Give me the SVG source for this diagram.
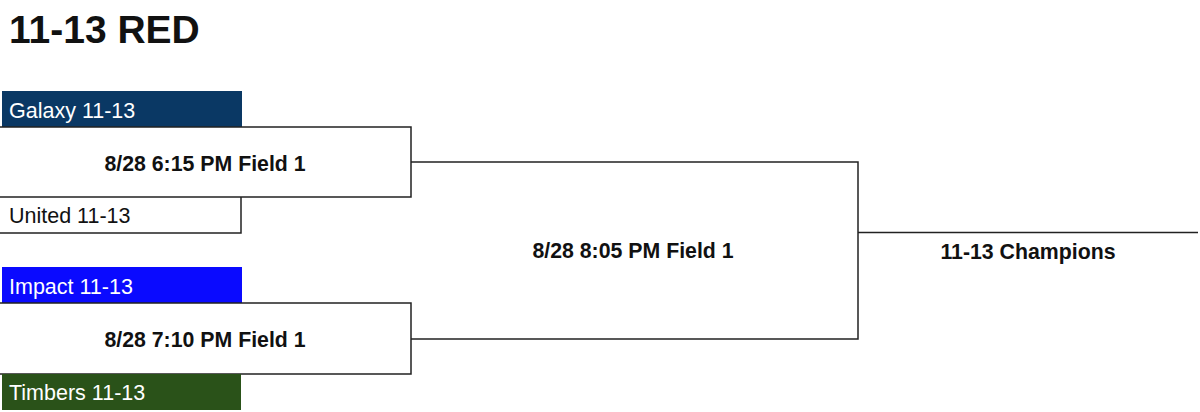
<svg xmlns="http://www.w3.org/2000/svg" width="1200" height="412" viewBox="0 0 1200 412">
<style>
.ln{fill:none;stroke:#222;stroke-width:1.5}
.team{font-family:"Liberation Sans",Arial,sans-serif;font-size:21.5px}
.match{font-family:"Liberation Sans",Arial,sans-serif;font-size:21.3px;font-weight:bold;fill:#111;text-anchor:middle}
</style>
<rect width="1200" height="412" fill="#fff"/>
<text id="title" x="9" y="43" font-family="Liberation Sans, Arial, sans-serif" font-size="39" font-weight="bold" fill="#111">11-13 RED</text>
<g id="galaxy">
<rect x="2" y="91" width="240" height="36" fill="#0a3864"/>
<text class="team" x="9" y="118" fill="#fff">Galaxy 11-13</text>
</g>
<g id="match1">
<path class="ln" d="M0 127H411V197H0"/>
<text class="match" x="205" y="171">8/28 6:15 PM Field 1</text>
</g>
<g id="united">
<path class="ln" d="M241 197V233H0"/>
<text class="team" x="9" y="223" fill="#111">United 11-13</text>
</g>
<g id="impact">
<rect x="2" y="267" width="240" height="36" fill="#0a0aff"/>
<text class="team" x="9" y="294" fill="#fff">Impact 11-13</text>
</g>
<g id="match2">
<path class="ln" d="M0 303H411V374H0"/>
<text class="match" x="205" y="347">8/28 7:10 PM Field 1</text>
</g>
<g id="timbers">
<rect x="2" y="374" width="239" height="36" fill="#2a5219"/>
<text class="team" x="9" y="400" fill="#fff">Timbers 11-13</text>
</g>
<g id="final">
<text class="match" x="633" y="258">8/28 8:05 PM Field 1</text>
</g>
<g id="champions">
<text class="match" x="1028" y="259">11-13 Champions</text>
</g>
<g id="connectors">
<path class="ln" d="M411 162H858V339H411"/>
<path class="ln" d="M858 232.5H1198"/>
</g>
</svg>
